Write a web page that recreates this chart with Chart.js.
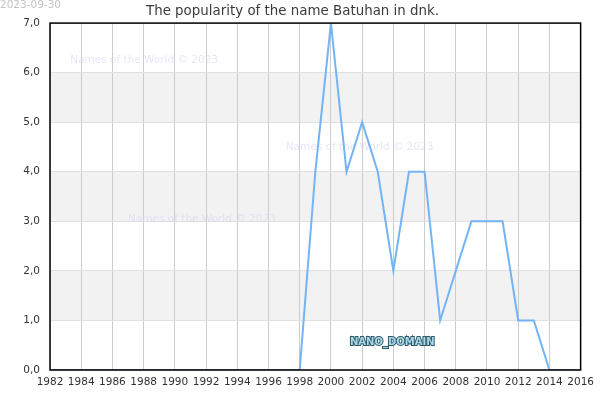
<!DOCTYPE html>
<html>
<head>
<meta charset="utf-8">
<script src="https://cdn.jsdelivr.net/npm/chart.js@4/dist/chart.umd.min.js"></script>
<style>
  body { margin: 0; background: #fff; }
  #wrap { width: 600px; height: 400px; position: relative; }
</style>
</head>
<body>
<div id="wrap"><canvas id="myChart" width="600" height="400"></canvas></div>
<script>
var years = [1982, 1983, 1984, 1985, 1986, 1987, 1988, 1989, 1990, 1991, 1992, 1993, 1994, 1995, 1996, 1997, 1998,
             1999, 2000, 2001, 2002, 2003, 2004, 2005, 2006, 2007, 2008, 2009, 2010, 2011, 2012, 2013, 2014, 2015, 2016];
var counts = [0, 0, 0, 0, 0, 0, 0, 0, 0, 0, 0, 0, 0, 0, 0, 0, 0,
              4, 7, 4, 5, 4, 2, 4, 4, 1, 2, 3, 3, 3, 1, 1, 0, 0, 0];
var bands = [[1, 2], [3, 4], [5, 6]];
var watermarks = [[1983.3, 6.25], [1997.1, 4.5], [1987.0, 3.05]];

var FONT = "'DejaVu Sans'";
Chart.defaults.font.family = FONT;

var points = [];
years.forEach((y, i) => points.push({x: y, y: counts[i]}));

var decorPlugin = {
    id: 'decor',
    beforeDatasetsDraw(chart) {
        var ctx = chart.ctx;
        var xs = chart.scales.x, ys = chart.scales.y;
        ctx.save();
        // watermark text
        ctx.font = '10.5px ' + FONT;
        ctx.fillStyle = 'rgba(210, 210, 245, 0.55)';
        ctx.textBaseline = 'middle';
        watermarks.forEach(w => ctx.fillText('Names of the World \u00a9 2023', xs.getPixelForValue(w[0]), ys.getPixelForValue(w[1])));
        ctx.restore();
    },
    beforeDraw(chart) {
        var ctx = chart.ctx, a = chart.chartArea, ys = chart.scales.y;
        ctx.save();
        ctx.fillStyle = '#f2f2f2';
        bands.forEach(b => {
            var t = ys.getPixelForValue(b[1]), bt = ys.getPixelForValue(b[0]);
            ctx.fillRect(a.left, t, a.right - a.left, bt - t);
        });
        ctx.font = '10.5px ' + FONT;
        ctx.fillStyle = '#c4c4c4';
        ctx.textBaseline = 'middle';
        ctx.fillText('2023-09-30', 0, 5);
        ctx.restore();
    },
    afterDraw(chart) {
        var ctx = chart.ctx, a = chart.chartArea;
        ctx.save();
        ctx.strokeStyle = '#000';
        ctx.lineWidth = 1.5;
        ctx.strokeRect(a.left, a.top, a.right - a.left, a.bottom - a.top);
        ctx.font = 'bold 10px ' + FONT;
        ctx.textBaseline = 'middle';
        ctx.lineWidth = 2;
        ctx.strokeStyle = '#2d5866';
        ctx.strokeText('NANO_DOMAIN', 350, 342);
        ctx.fillStyle = '#a8d8ea';
        ctx.fillText('NANO_DOMAIN', 350, 342);
        ctx.restore();
    }
};

var ctx = document.getElementById('myChart').getContext('2d');
var chart = new Chart(ctx, {
    type: 'line',
    data: {
        datasets: [{
            data: points,
            borderColor: 'rgb(115, 180, 245)',
            borderWidth: 2,
            pointRadius: 0,
            tension: 0,
            fill: false
        }]
    },
    options: {
        responsive: false,
        animation: false,
        layout: { padding: { left: 0, right: 15, top: 0, bottom: 0 } },
        plugins: {
            legend: { display: false },
            tooltip: { enabled: false },
            title: {
                display: true,
                text: 'The popularity of the name Batuhan in dnk.',
                color: '#3a3a3a',
                font: { family: FONT, size: 13.4, weight: 'normal' },
                padding: { top: 3, bottom: 4 }
            }
        },
        scales: {
            x: {
                type: 'linear',
                min: 1982,
                max: 2016,
                afterFit(s) { s.height = 30; },
                ticks: {
                    stepSize: 2,
                    color: '#333',
                    font: { family: FONT, size: 10.5 },
                    padding: 6,
                    maxRotation: 0,
                    callback: v => String(v)
                },
                grid: { color: '#cccccc', drawTicks: false },
                border: { display: false }
            },
            y: {
                min: 0,
                max: 7,
                afterFit(s) { s.width = 50; },
                ticks: {
                    stepSize: 1,
                    color: '#333',
                    font: { family: FONT, size: 10.5 },
                    padding: 10,
                    callback: v => v.toFixed(1).replace('.', ',')
                },
                grid: { color: '#e0e0e0', drawTicks: false },
                border: { display: false }
            }
        }
    },
    plugins: [decorPlugin]
});
</script>
</body>
</html>
